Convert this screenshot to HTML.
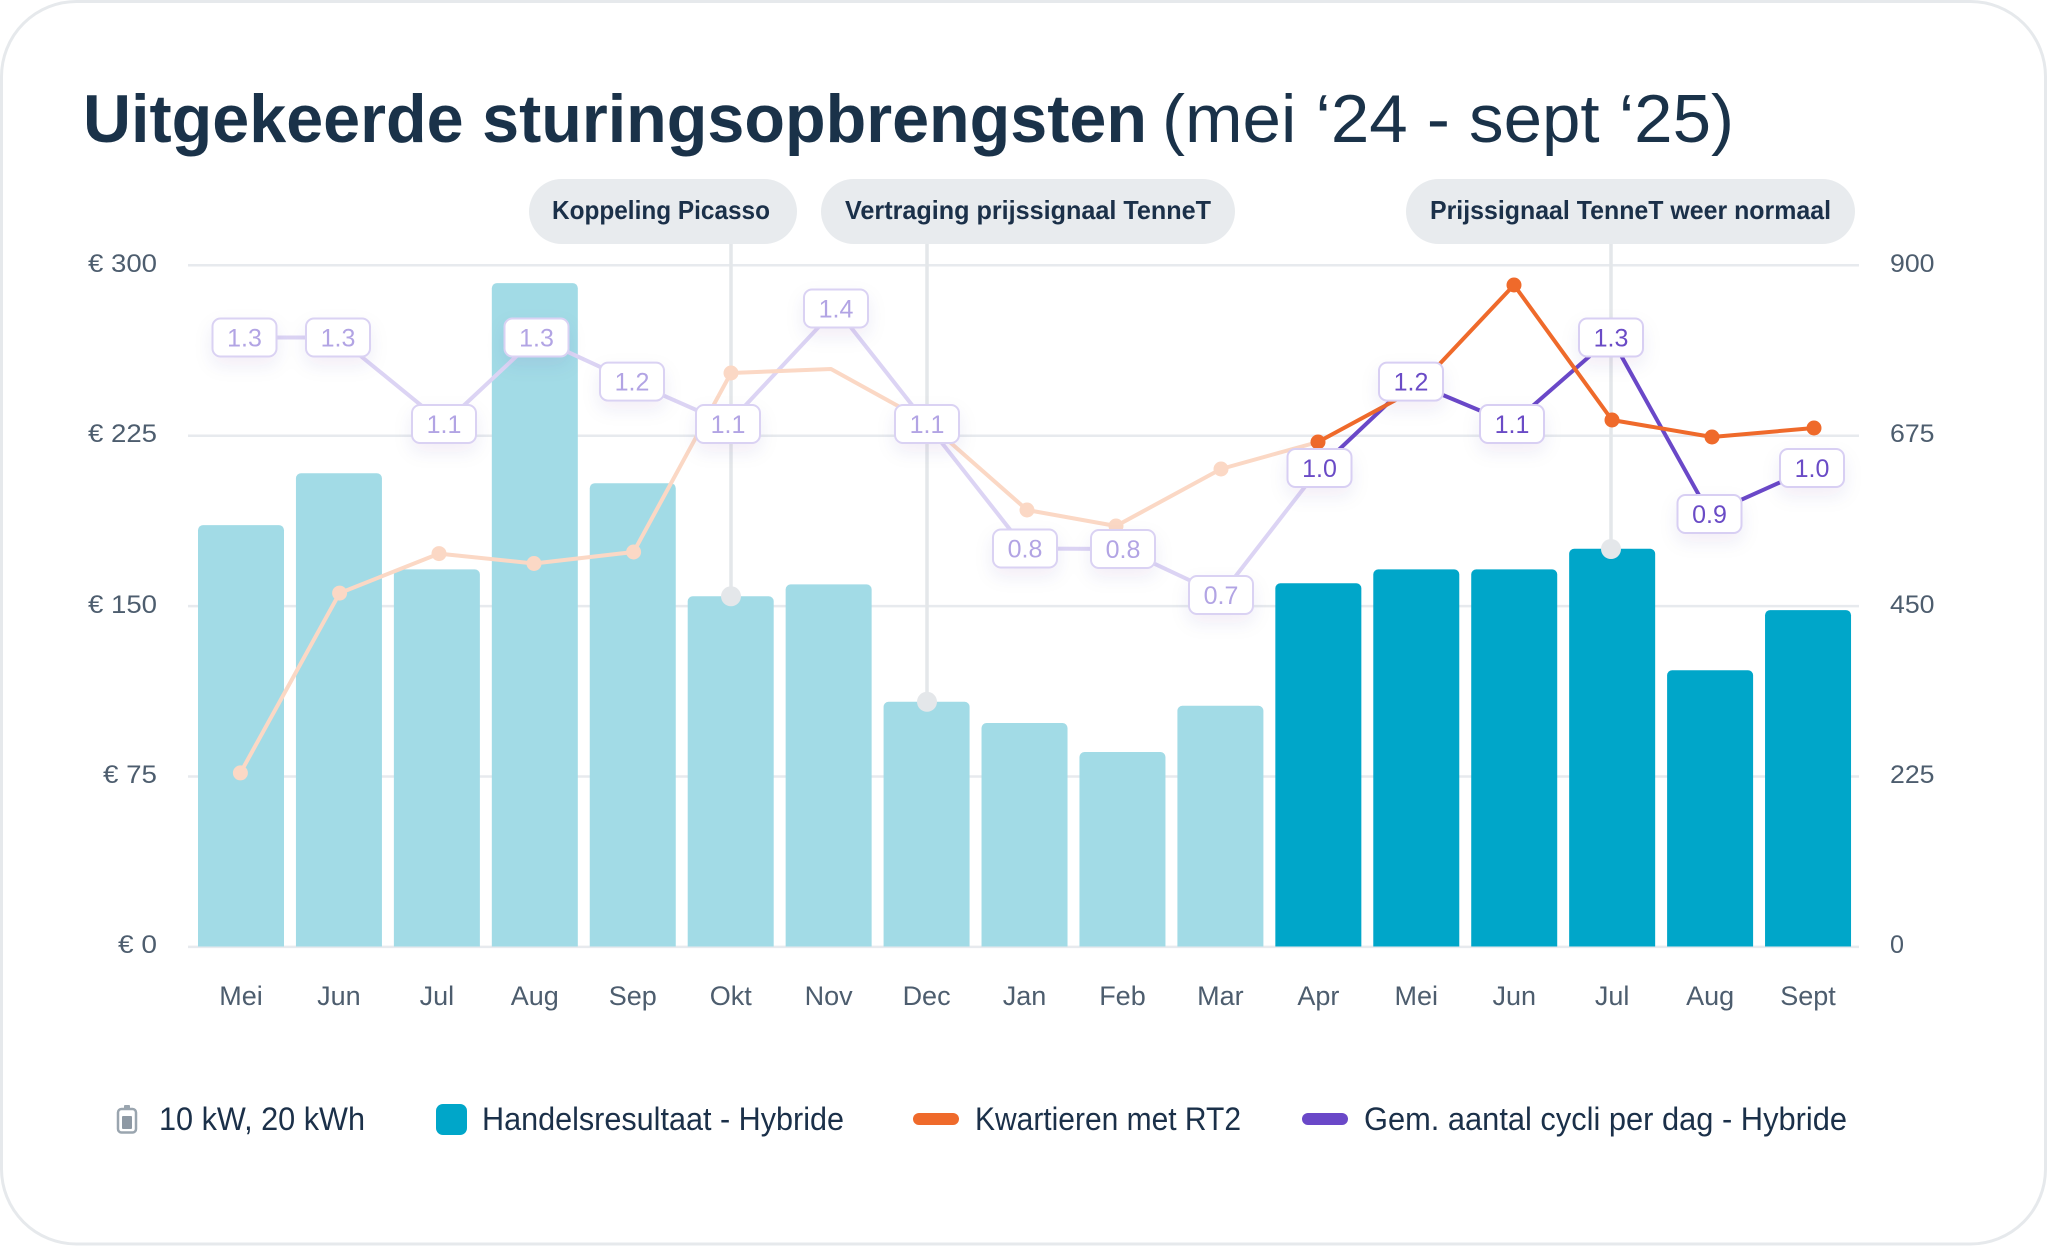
<!DOCTYPE html>
<html>
<head>
<meta charset="utf-8">
<style>
  html,body{margin:0;padding:0;background:#ffffff;}
  svg{display:block;}
  text{font-family:"Liberation Sans", sans-serif;}
</style>
</head>
<body>
<svg width="2048" height="1246" viewBox="0 0 2048 1246" xmlns="http://www.w3.org/2000/svg">
  <defs>
    <clipPath id="plotclip"><rect x="0" y="0" width="2048" height="946.5"/></clipPath>
    <filter id="sh" x="-50%" y="-50%" width="200%" height="220%">
      <feDropShadow dx="0" dy="8" stdDeviation="9" flood-color="#3a2a80" flood-opacity="0.07"/>
    </filter>
  </defs>

  <!-- card -->
  <rect x="1.5" y="1.5" width="2044" height="1242.5" rx="75" ry="75" fill="#ffffff" stroke="#e6e9ec" stroke-width="3"/>

  <!-- title -->
  <text x="83" y="142" font-size="68" font-weight="700" fill="#1a3249" textLength="1064" lengthAdjust="spacingAndGlyphs">Uitgekeerde sturingsopbrengsten</text>
  <text x="1162" y="142" font-size="68" font-weight="400" fill="#1a3249" textLength="572" lengthAdjust="spacingAndGlyphs">(mei ‘24 - sept ‘25)</text>

  <!-- gridlines -->
  <g stroke="#e7eaee" stroke-width="2.5">
    <line x1="188" y1="265.3" x2="1859" y2="265.3"/>
    <line x1="188" y1="435.7" x2="1859" y2="435.7"/>
    <line x1="188" y1="606.1" x2="1859" y2="606.1"/>
    <line x1="188" y1="776.5" x2="1859" y2="776.5"/>
    <line x1="188" y1="946.9" x2="1859" y2="946.9"/>
  </g>

  <!-- left axis labels -->
  <g font-size="25" fill="#4d5d6e" text-anchor="end">
    <text x="157" y="272" textLength="69" lengthAdjust="spacingAndGlyphs">€ 300</text>
    <text x="157" y="442" textLength="69" lengthAdjust="spacingAndGlyphs">€ 225</text>
    <text x="157" y="613" textLength="69" lengthAdjust="spacingAndGlyphs">€ 150</text>
    <text x="157" y="783" textLength="54" lengthAdjust="spacingAndGlyphs">€ 75</text>
    <text x="157" y="953" textLength="39" lengthAdjust="spacingAndGlyphs">€ 0</text>
  </g>
  <!-- right axis labels -->
  <g font-size="25" fill="#4d5d6e">
    <text x="1890" y="272" textLength="44.5" lengthAdjust="spacingAndGlyphs">900</text>
    <text x="1890" y="442" textLength="44.5" lengthAdjust="spacingAndGlyphs">675</text>
    <text x="1890" y="613" textLength="44.5" lengthAdjust="spacingAndGlyphs">450</text>
    <text x="1890" y="783" textLength="44.5" lengthAdjust="spacingAndGlyphs">225</text>
    <text x="1890" y="953" textLength="14" lengthAdjust="spacingAndGlyphs">0</text>
  </g>

  <!-- bars -->
  <g clip-path="url(#plotclip)">
    <g fill="#a2dbe6">
      <rect x="198.0" y="525.1" width="86" height="430" rx="5"/>
      <rect x="295.94" y="473.3" width="86" height="480" rx="5"/>
      <rect x="393.88" y="569.4" width="86" height="390" rx="5"/>
      <rect x="491.82" y="283.1" width="86" height="670" rx="5"/>
      <rect x="589.76" y="483.2" width="86" height="470" rx="5"/>
      <rect x="687.70" y="596.3" width="86" height="360" rx="5"/>
      <rect x="785.64" y="584.4" width="86" height="370" rx="5"/>
      <rect x="883.58" y="701.8" width="86" height="250" rx="5"/>
      <rect x="981.52" y="723.0" width="86" height="230" rx="5"/>
      <rect x="1079.46" y="752.0" width="86" height="200" rx="5"/>
      <rect x="1177.40" y="705.8" width="86" height="250" rx="5"/>
    </g>
    <g fill="#00a6c9">
      <rect x="1275.34" y="583.3" width="86" height="370" rx="5"/>
      <rect x="1373.28" y="569.4" width="86" height="390" rx="5"/>
      <rect x="1471.22" y="569.4" width="86" height="390" rx="5"/>
      <rect x="1569.16" y="548.8" width="86" height="410" rx="5"/>
      <rect x="1667.10" y="670.3" width="86" height="290" rx="5"/>
      <rect x="1765.04" y="610.1" width="86" height="350" rx="5"/>
    </g>
  </g>

  <!-- annotation pills + lines -->
  <g stroke="#e4e7ea" stroke-width="3.5">
    <line x1="731" y1="244" x2="731" y2="596"/>
    <line x1="927" y1="244" x2="927" y2="701.8"/>
    <line x1="1611" y1="244" x2="1611" y2="549"/>
  </g>
  <g fill="#e4e7ea">
    <circle cx="731" cy="596.3" r="10"/>
    <circle cx="927" cy="701.8" r="10"/>
    <circle cx="1611" cy="549" r="10"/>
  </g>
  <g fill="#e8ebee">
    <rect x="529" y="179" width="268" height="65" rx="32.5"/>
    <rect x="821" y="179" width="414" height="65" rx="32.5"/>
    <rect x="1406" y="179" width="449" height="65" rx="32.5"/>
  </g>
  <g font-size="26" font-weight="700" fill="#1b3049">
    <text x="552" y="219" textLength="218" lengthAdjust="spacingAndGlyphs">Koppeling Picasso</text>
    <text x="845" y="219" textLength="366" lengthAdjust="spacingAndGlyphs">Vertraging prijssignaal TenneT</text>
    <text x="1430" y="219" textLength="401" lengthAdjust="spacingAndGlyphs">Prijssignaal TenneT weer normaal</text>
  </g>

  <!-- purple lines -->
  <polyline fill="none" stroke="#dcd4f4" stroke-width="4" stroke-linejoin="round"
    points="244.5,337.5 338,337.5 444,424 536.5,337.5 632,381.6 728,424 836,308.5 927,424 1025,548.5 1123,549 1221,595 1319.5,468"/>
  <polyline fill="none" stroke="#6a48c8" stroke-width="4" stroke-linejoin="round"
    points="1319.5,468 1411,381.6 1512,424 1611,337.5 1709.5,514 1812,468"/>

  <!-- orange lines -->
  <polyline fill="none" stroke="#fbd8c5" stroke-width="4" stroke-linejoin="round"
    points="240.4,772.9 339.6,593.1 439,553.6 534,563.5 633.6,552 731,373 831,369 927,422 1027,510 1116,526 1221,469 1318,442"/>
  <polyline fill="none" stroke="#ef6a2b" stroke-width="4" stroke-linejoin="round"
    points="1318,442 1416,389 1514,285 1612,420 1712,437 1814,428"/>
  <g fill="#fbd8c5">
    <circle cx="240.4" cy="772.9" r="7.5"/>
    <circle cx="339.6" cy="593.1" r="7.5"/>
    <circle cx="439" cy="553.6" r="7.5"/>
    <circle cx="534" cy="563.5" r="7.5"/>
    <circle cx="633.6" cy="552" r="7.5"/>
    <circle cx="731" cy="373" r="7.5"/>
    <circle cx="1027" cy="510" r="7.5"/>
    <circle cx="1116" cy="526" r="7.5"/>
    <circle cx="1221" cy="469" r="7.5"/>
  </g>
  <g fill="#ef6a2b">
    <circle cx="1318" cy="442" r="7.5"/>
    <circle cx="1416" cy="389" r="7.5"/>
    <circle cx="1514" cy="285" r="7.5"/>
    <circle cx="1612" cy="420" r="7.5"/>
    <circle cx="1712" cy="437" r="7.5"/>
    <circle cx="1814" cy="428" r="7.5"/>
  </g>

  <!-- purple labels -->
  <g filter="url(#sh)">
    <g fill="#ffffff" stroke="#dad2f3" stroke-width="2">
      <rect x="212.5" y="318.5" width="64" height="38" rx="8"/>
      <rect x="306" y="318.5" width="64" height="38" rx="8"/>
      <rect x="412" y="405" width="64" height="38" rx="8"/>
      <rect x="504.5" y="318.5" width="64" height="38" rx="8"/>
      <rect x="600" y="362.6" width="64" height="38" rx="8"/>
      <rect x="696" y="405" width="64" height="38" rx="8"/>
      <rect x="804" y="289.5" width="64" height="38" rx="8"/>
      <rect x="895" y="405" width="64" height="38" rx="8"/>
      <rect x="993" y="529.5" width="64" height="38" rx="8"/>
      <rect x="1091" y="530" width="64" height="38" rx="8"/>
      <rect x="1189" y="576" width="64" height="38" rx="8"/>
    </g>
    <g fill="#ffffff" stroke="#d8cff3" stroke-width="2">
      <rect x="1287.5" y="449" width="64" height="38" rx="8"/>
      <rect x="1379" y="362.6" width="64" height="38" rx="8"/>
      <rect x="1480" y="405" width="64" height="38" rx="8"/>
      <rect x="1579" y="318.5" width="64" height="38" rx="8"/>
      <rect x="1677.5" y="495" width="64" height="38" rx="8"/>
      <rect x="1780" y="449" width="64" height="38" rx="8"/>
    </g>
  </g>
  <g font-size="25" text-anchor="middle" fill="#b2a4e4">
    <text x="244.5" y="346.5">1.3</text>
    <text x="338" y="346.5">1.3</text>
    <text x="444" y="433">1.1</text>
    <text x="536.5" y="346.5">1.3</text>
    <text x="632" y="390.6">1.2</text>
    <text x="728" y="433">1.1</text>
    <text x="836" y="317.5">1.4</text>
    <text x="927" y="433">1.1</text>
    <text x="1025" y="557.5">0.8</text>
    <text x="1123" y="558">0.8</text>
    <text x="1221" y="604">0.7</text>
  </g>
  <g font-size="25" text-anchor="middle" fill="#6a4bc6">
    <text x="1319.5" y="477">1.0</text>
    <text x="1411" y="390.6">1.2</text>
    <text x="1512" y="433">1.1</text>
    <text x="1611" y="346.5">1.3</text>
    <text x="1709.5" y="523">0.9</text>
    <text x="1812" y="477">1.0</text>
  </g>

  <!-- x axis labels -->
  <g font-size="27" fill="#4d5d6e" text-anchor="middle">
    <text x="241.0" y="1005">Mei</text>
    <text x="338.94" y="1005">Jun</text>
    <text x="436.88" y="1005">Jul</text>
    <text x="534.82" y="1005">Aug</text>
    <text x="632.76" y="1005">Sep</text>
    <text x="730.70" y="1005">Okt</text>
    <text x="828.64" y="1005">Nov</text>
    <text x="926.58" y="1005">Dec</text>
    <text x="1024.52" y="1005">Jan</text>
    <text x="1122.46" y="1005">Feb</text>
    <text x="1220.40" y="1005">Mar</text>
    <text x="1318.34" y="1005">Apr</text>
    <text x="1416.28" y="1005">Mei</text>
    <text x="1514.22" y="1005">Jun</text>
    <text x="1612.16" y="1005">Jul</text>
    <text x="1710.10" y="1005">Aug</text>
    <text x="1808.04" y="1005">Sept</text>
  </g>

  <!-- legend -->
  <g>
    <rect x="124" y="1105" width="6" height="4" rx="1" fill="#9aa5af"/>
    <rect x="118" y="1109" width="18" height="23.5" rx="3.5" fill="none" stroke="#9aa5af" stroke-width="2.5"/>
    <rect x="122" y="1116" width="10" height="13" rx="1" fill="#8e99a4"/>
  </g>
  <rect x="436" y="1104" width="31" height="31" rx="7" fill="#00a6c9"/>
  <rect x="913" y="1113" width="46" height="12" rx="6" fill="#ef6a2b"/>
  <rect x="1302" y="1113" width="46" height="12" rx="6" fill="#6a48c8"/>
  <g font-size="32" fill="#1b3049">
    <text x="159" y="1130" textLength="206" lengthAdjust="spacingAndGlyphs">10 kW, 20 kWh</text>
    <text x="482" y="1130" textLength="362" lengthAdjust="spacingAndGlyphs">Handelsresultaat - Hybride</text>
    <text x="975" y="1130" textLength="266" lengthAdjust="spacingAndGlyphs">Kwartieren met RT2</text>
    <text x="1364" y="1130" textLength="483" lengthAdjust="spacingAndGlyphs">Gem. aantal cycli per dag - Hybride</text>
  </g>
</svg>
</body>
</html>
